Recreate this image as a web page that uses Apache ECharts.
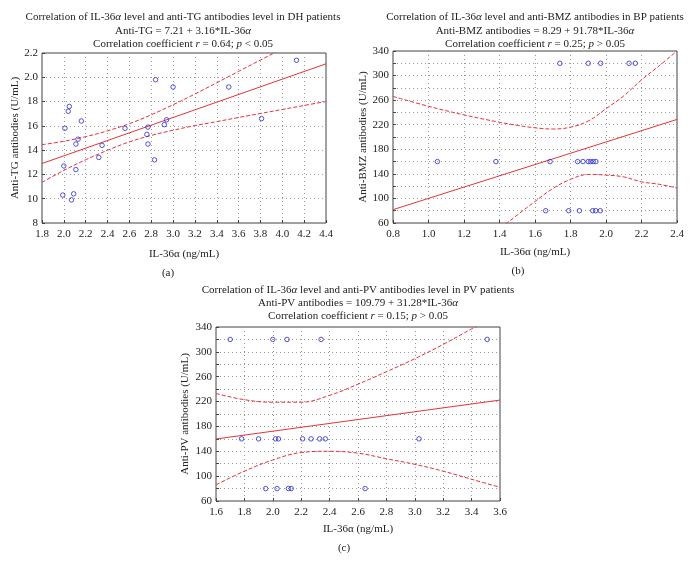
<!DOCTYPE html>
<html>
<head>
<meta charset="utf-8">
<script src="https://cdn.jsdelivr.net/npm/echarts@6/dist/echarts.min.js"></script>
<style>html,body{margin:0;padding:0;background:#fff;}#c{width:691px;height:570px;}</style>
</head>
<body>
<div id="c"></div>
<script>
// ---------- Panel (a) DH ----------
const xA = [4.13, 2.84, 3.00, 3.51, 2.05, 2.04, 2.16, 2.01, 2.56, 3.81, 2.94, 2.92, 2.77, 2.76, 2.77, 2.13, 2.11, 2.35, 2.32, 2.83, 2.00, 2.11, 1.99, 2.09, 2.07];
const yA = [21.4, 19.8, 19.2, 19.2, 17.6, 17.2, 16.4, 15.8, 15.8, 16.6, 16.5, 16.1, 15.9, 15.3, 14.5, 14.9, 14.5, 14.4, 13.4, 13.2, 12.7, 12.4, 10.3, 10.4, 9.9];
const fitXA = [1.8, 4.4];
const fitYA = [12.90, 21.11];
const bandXA = [1.8, 2.0, 2.2, 2.4, 2.6, 2.8, 3.0, 3.2, 3.4, 3.6, 3.8, 4.0, 4.2, 4.4];
const upperA = [14.45, 14.73, 15.11, 15.59, 16.18, 16.91, 17.74, 18.62, 19.55, 20.49, 21.42, 22.35, 23.28, 24.21];
const lowerA = [11.35, 12.33, 13.21, 13.99, 14.68, 15.21, 15.64, 16.02, 16.35, 16.69, 17.02, 17.35, 17.68, 18.01];
const yTickLabelsA = {8: '8', 10: '10', 12: '12', 14: '14', 16: '16', 18: '18', 20: '2.0', 22: '2.2'};

// ---------- Panel (b) BP ----------
const xB = [1.74, 1.90, 1.97, 2.13, 2.165, 1.05, 1.38, 1.685, 1.84, 1.87, 1.90, 1.913, 1.928, 1.943, 1.66, 1.79, 1.85, 1.925, 1.942, 1.968];
const yB = [320, 320, 320, 320, 320, 160, 160, 160, 160, 160, 160, 160, 160, 160, 80, 80, 80, 80, 80, 80];
const fitXB = [0.8, 2.4];
const fitYB = [81.7, 228.6];
const bandXB = [0.8, 1.0, 1.2, 1.4, 1.5, 1.6, 1.7, 1.8, 1.9, 2.0, 2.1, 2.2, 2.3, 2.4];
const upperB = [266, 250, 236, 224, 219, 215, 213, 216, 226, 246, 267, 293, 316, 340];
const lowerB = [-103, -50, 1, 50, 73, 95, 116, 131, 139, 138, 135, 127, 123, 117];

// ---------- Panel (c) PV ----------
const xC = [1.70, 2.00, 2.10, 2.34, 3.51, 1.78, 1.90, 2.02, 2.04, 2.21, 2.27, 2.33, 2.37, 3.03, 1.95, 2.03, 2.11, 2.13, 2.65];
const yC = [320, 320, 320, 320, 320, 160, 160, 160, 160, 160, 160, 160, 160, 160, 80, 80, 80, 80, 80];
const fitXC = [1.6, 3.6];
const fitYC = [159.8, 222.4];
const bandXC = [1.6, 1.8, 2.0, 2.2, 2.4, 2.6, 2.8, 3.0, 3.2, 3.4, 3.6];
const upperC = [233, 223, 219, 219, 230, 248, 268, 289, 312, 337, 362];
const lowerC = [86, 108, 126, 138, 140, 137, 128, 119, 108, 95, 82];

const FONT = "'Liberation Serif', 'DejaVu Serif', serif";
const TXT = '#222';
const RED = '#e3343a';
const BLUE = '#2b2bd0';

function zip(xs, ys) { return xs.map((x, i) => [x, ys[i]]); }

const gridBox = { show: true, borderColor: '#444', borderWidth: 1, backgroundColor: 'transparent' };
const grids = [
  Object.assign({ left: 42, top: 53, width: 284, height: 170 }, gridBox),
  Object.assign({ left: 393, top: 51, width: 284, height: 172 }, gridBox),
  Object.assign({ left: 216, top: 327, width: 284, height: 174 }, gridBox)
];

function xAxisDef(gi, min, max, gap) {
  return {
    type: 'value', gridIndex: gi, min: min, max: max, interval: 0.2,
    name: 'IL-36\u03b1 (ng/mL)', nameLocation: 'middle', nameGap: gap,
    nameTextStyle: { fontFamily: FONT, fontSize: 11, color: TXT },
    axisLine: { show: false },
    axisTick: { show: true, inside: true, length: 3, lineStyle: { color: '#444' } },
    axisLabel: { fontFamily: FONT, fontSize: 11, color: TXT, margin: 6, formatter: v => v.toFixed(1) },
    splitLine: { show: true, lineStyle: { color: '#9a9a9a', type: [1, 3], width: 1 } }
  };
}
function yAxisDef(gi, min, max, interval, name, gap, fmt) {
  return {
    type: 'value', gridIndex: gi, min: min, max: max, interval: interval,
    name: name, nameLocation: 'middle', nameGap: gap,
    nameTextStyle: { fontFamily: FONT, fontSize: 11, color: TXT },
    axisLine: { show: false },
    axisTick: { show: true, inside: true, length: 3, lineStyle: { color: '#444' } },
    axisLabel: { fontFamily: FONT, fontSize: 11, color: TXT, margin: 4, formatter: fmt },
    splitLine: { show: true, lineStyle: { color: '#9a9a9a', type: [1, 3], width: 1 } }
  };
}

function scatter(gi, xs, ys) {
  return {
    type: 'scatter', xAxisIndex: gi, yAxisIndex: gi, data: zip(xs, ys),
    symbol: 'circle', symbolSize: 4.5, silent: true,
    itemStyle: { color: 'rgba(0,0,0,0)', borderColor: BLUE, borderWidth: 1 }, z: 5
  };
}
function fitLine(gi, xs, ys) {
  return {
    type: 'line', xAxisIndex: gi, yAxisIndex: gi, data: zip(xs, ys), showSymbol: false, silent: true,
    lineStyle: { color: RED, width: 1 }, clip: true, z: 3
  };
}
function band(gi, xs, ys) {
  return {
    type: 'line', xAxisIndex: gi, yAxisIndex: gi, data: zip(xs, ys), showSymbol: false, silent: true,
    smooth: 0.4, lineStyle: { color: RED, width: 1, type: [4, 2] }, clip: true, z: 3
  };
}

const rich = {
  n: { fontFamily: FONT, fontSize: 11, fill: TXT, color: TXT },
  i: { fontFamily: FONT, fontSize: 11, fontStyle: 'italic', fill: TXT, color: TXT }
};
function txt(x, y, text) {
  return {
    type: 'text', x: x, y: y, silent: true,
    style: { text: text, rich: rich, align: 'center', verticalAlign: 'middle', font: "11px " + FONT, fill: TXT }
  };
}

const option = {
  animation: false,
  backgroundColor: '#fff',
  grid: grids,
  xAxis: [xAxisDef(0, 1.8, 4.4, 26), xAxisDef(1, 0.8, 2.4, 24), xAxisDef(2, 1.6, 3.6, 23)],
  yAxis: [
    yAxisDef(0, 8, 22, 2, 'Anti-TG antibodies (U/mL)', 21, v => yTickLabelsA[v] !== undefined ? yTickLabelsA[v] : String(v)),
    yAxisDef(1, 60, 340, 20, 'Anti-BMZ antibodies (U/mL)', 23, v => ((v - 60) % 40 === 0 ? String(v) : '')),
    yAxisDef(2, 60, 340, 20, 'Anti-PV antibodies (U/mL)', 25, v => ((v - 60) % 40 === 0 ? String(v) : ''))
  ],
  series: [
    band(0, bandXA, upperA), band(0, bandXA, lowerA), fitLine(0, fitXA, fitYA), scatter(0, xA, yA),
    band(1, bandXB, upperB), band(1, bandXB, lowerB), fitLine(1, fitXB, fitYB), scatter(1, xB, yB),
    band(2, bandXC, upperC), band(2, bandXC, lowerC), fitLine(2, fitXC, fitYC), scatter(2, xC, yC)
  ],
  graphic: [
    txt(183, 17, '{n|Correlation of IL-36}{i|\u03b1}{n| level and anti-TG antibodies level in DH patients}'),
    txt(183, 31, '{n|Anti-TG = 7.21 + 3.16*IL-36}{i|\u03b1}'),
    txt(183, 44, '{n|Correlation coefficient }{i|r}{n| = 0.64; }{i|p}{n| < 0.05}'),
    txt(535, 17, '{n|Correlation of IL-36}{i|\u03b1}{n| level and anti-BMZ antibodies in BP patients}'),
    txt(535, 31, '{n|Anti-BMZ antibodies = 8.29 + 91.78*IL-36}{i|\u03b1}'),
    txt(535, 44, '{n|Correlation coefficient }{i|r}{n| = 0.25; }{i|p}{n| > 0.05}'),
    txt(358, 290, '{n|Correlation of IL-36}{i|\u03b1}{n| level and anti-PV antibodies level in PV patients}'),
    txt(358, 303, '{n|Anti-PV antibodies = 109.79 + 31.28*IL-36}{i|\u03b1}'),
    txt(358, 316, '{n|Correlation coefficient }{i|r}{n| = 0.15; }{i|p}{n| > 0.05}'),
    txt(168, 273, '{n|(a)}'),
    txt(518, 271, '{n|(b)}'),
    txt(344, 548, '{n|(c)}')
  ]
};

const chart = echarts.init(document.getElementById('c'), null, { renderer: 'canvas' });
chart.setOption(option);
</script>
</body>
</html>
